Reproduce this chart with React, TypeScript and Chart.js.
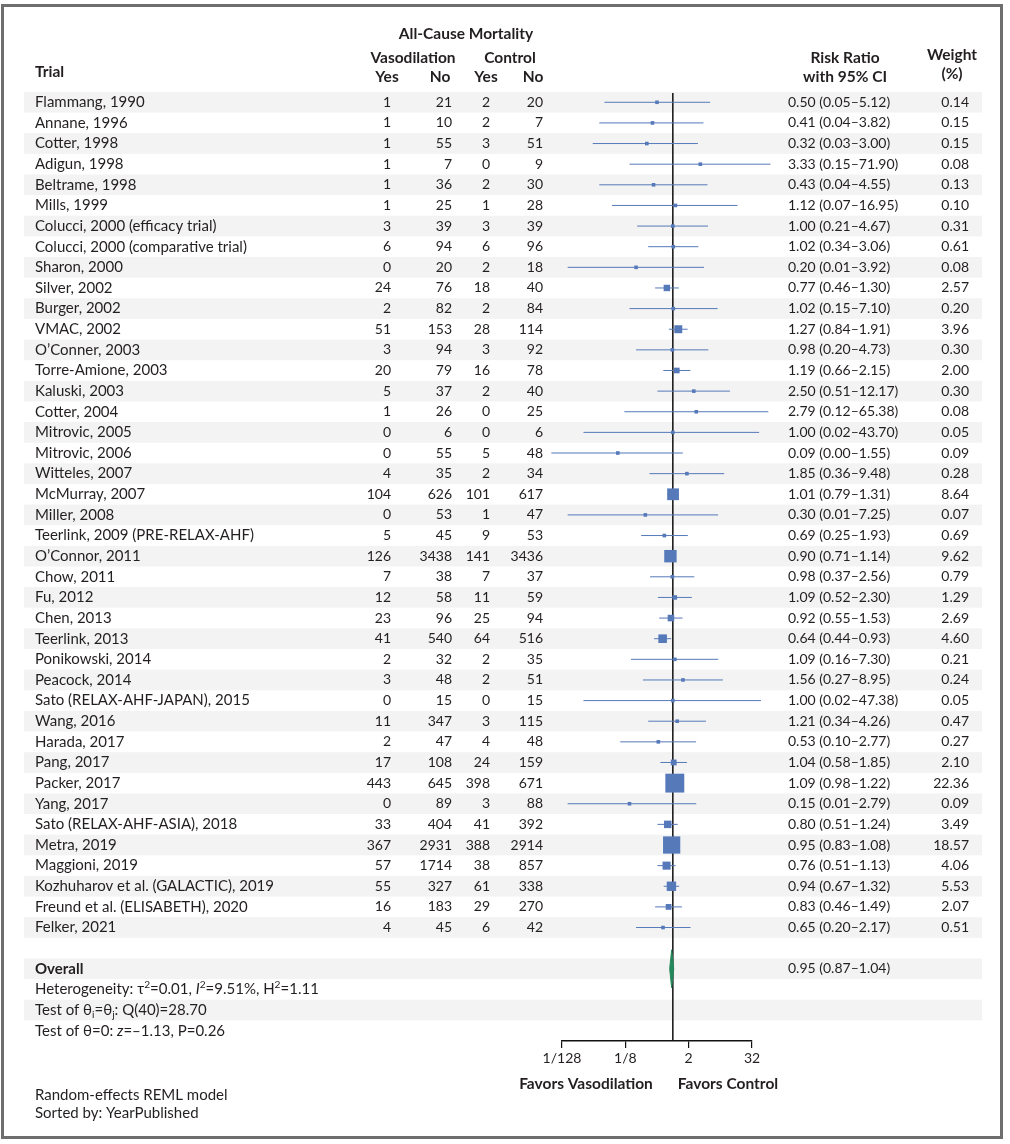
import { useEffect, useRef } from "react";
import { Chart, registerables } from "chart.js";

Chart.register(...registerables);

// ---------------- data ----------------
const trials = [
  "Flammang, 1990",
  "Annane, 1996",
  "Cotter, 1998",
  "Adigun, 1998",
  "Beltrame, 1998",
  "Mills, 1999",
  "Colucci, 2000 (efficacy trial)",
  "Colucci, 2000 (comparative trial)",
  "Sharon, 2000",
  "Silver, 2002",
  "Burger, 2002",
  "VMAC, 2002",
  "O\u2019Conner, 2003",
  "Torre-Amione, 2003",
  "Kaluski, 2003",
  "Cotter, 2004",
  "Mitrovic, 2005",
  "Mitrovic, 2006",
  "Witteles, 2007",
  "McMurray, 2007",
  "Miller, 2008",
  "Teerlink, 2009 (PRE-RELAX-AHF)",
  "O\u2019Connor, 2011",
  "Chow, 2011",
  "Fu, 2012",
  "Chen, 2013",
  "Teerlink, 2013",
  "Ponikowski, 2014",
  "Peacock, 2014",
  "Sato (RELAX-AHF-JAPAN), 2015",
  "Wang, 2016",
  "Harada, 2017",
  "Pang, 2017",
  "Packer, 2017",
  "Yang, 2017",
  "Sato (RELAX-AHF-ASIA), 2018",
  "Metra, 2019",
  "Maggioni, 2019",
  "Kozhuharov et al. (GALACTIC), 2019",
  "Freund et al. (ELISABETH), 2020",
  "Felker, 2021",
];
const vasoYes = [1, 1, 1, 1, 1, 1, 3, 6, 0, 24, 2, 51, 3, 20, 5, 1, 0, 0, 4, 104, 0, 5, 126, 7, 12, 23, 41, 2, 3, 0, 11, 2, 17, 443, 0, 33, 367, 57, 55, 16, 4];
const vasoNo = [21, 10, 55, 7, 36, 25, 39, 94, 20, 76, 82, 153, 94, 79, 37, 26, 6, 55, 35, 626, 53, 45, 3438, 38, 58, 96, 540, 32, 48, 15, 347, 47, 108, 645, 89, 404, 2931, 1714, 327, 183, 45];
const ctrlYes = [2, 2, 3, 0, 2, 1, 3, 6, 2, 18, 2, 28, 3, 16, 2, 0, 0, 5, 2, 101, 1, 9, 141, 7, 11, 25, 64, 2, 2, 0, 3, 4, 24, 398, 3, 41, 388, 38, 61, 29, 6];
const ctrlNo = [20, 7, 51, 9, 30, 28, 39, 96, 18, 40, 84, 114, 92, 78, 40, 25, 6, 48, 34, 617, 47, 53, 3436, 37, 59, 94, 516, 35, 51, 15, 115, 48, 159, 671, 88, 392, 2914, 857, 338, 270, 42];
const riskRatio = [0.5, 0.41, 0.32, 3.33, 0.43, 1.12, 1.0, 1.02, 0.2, 0.77, 1.02, 1.27, 0.98, 1.19, 2.5, 2.79, 1.0, 0.09, 1.85, 1.01, 0.3, 0.69, 0.9, 0.98, 1.09, 0.92, 0.64, 1.09, 1.56, 1.0, 1.21, 0.53, 1.04, 1.09, 0.15, 0.8, 0.95, 0.76, 0.94, 0.83, 0.65];
const ciLow = [0.05, 0.04, 0.03, 0.15, 0.04, 0.07, 0.21, 0.34, 0.01, 0.46, 0.15, 0.84, 0.2, 0.66, 0.51, 0.12, 0.02, 0.0049, 0.36, 0.79, 0.01, 0.25, 0.71, 0.37, 0.52, 0.55, 0.44, 0.16, 0.27, 0.02, 0.34, 0.1, 0.58, 0.98, 0.01, 0.51, 0.83, 0.51, 0.67, 0.46, 0.2];
const ciHigh = [5.12, 3.82, 3.0, 71.9, 4.55, 16.95, 4.67, 3.06, 3.92, 1.3, 7.1, 1.91, 4.73, 2.15, 12.17, 65.38, 43.7, 1.55, 9.48, 1.31, 7.25, 1.93, 1.14, 2.56, 2.3, 1.53, 0.93, 7.3, 8.95, 47.38, 4.26, 2.77, 1.85, 1.22, 2.79, 1.24, 1.08, 1.13, 1.32, 1.49, 2.17];
const weights = [0.14, 0.15, 0.15, 0.08, 0.13, 0.1, 0.31, 0.61, 0.08, 2.57, 0.2, 3.96, 0.3, 2.0, 0.3, 0.08, 0.05, 0.09, 0.28, 8.64, 0.07, 0.69, 9.62, 0.79, 1.29, 2.69, 4.6, 0.21, 0.24, 0.05, 0.47, 0.27, 2.1, 22.36, 0.09, 3.49, 18.57, 4.06, 5.53, 2.07, 0.51];
const overallEstimate = [0.95, 0.87, 1.04]; // RR, low, high
const tickValues = [1 / 128, 1 / 8, 2, 32];
const tickLabels = ["1/128", "1/8", "2", "32"];

// ---------------- layout ----------------
const W = 1010;
const H = 1144;
const PLOT_LEFT = 562;
const PLOT_RIGHT = 752;
const PLOT_TOP = 93;
const PLOT_BOTTOM = 1041;
const AXIS_H = 40;
const Y_MIN = -0.45;
const Y_MAX = 45.5;
const OVERALL_ROW = trials.length + 1;

const TEXT = "#231f20";
const BLUE = "#5579b9";
const GREEN = "#24885a";
const STRIPE = "#f3f3f3";
const FONT = '"Lato", "DejaVu Sans", sans-serif';
const GREEK = '"Lato", "DejaVu Serif", serif';

const fmt = (v: number) => v.toFixed(2);

type Seg = { t: string; it?: boolean; sup?: boolean; sub?: boolean; greek?: boolean };

function drawRich(ctx: CanvasRenderingContext2D, x: number, y: number, segs: Seg[], size: number) {
  let cx = x;
  ctx.textAlign = "left";
  for (const s of segs) {
    const fs = s.sup || s.sub ? size * 0.68 : size;
    ctx.font = `${s.it ? "italic " : ""}${fs}px ${s.greek ? GREEK : FONT}`;
    const dy = s.sup ? -size * 0.32 : s.sub ? size * 0.28 : 0;
    ctx.fillText(s.t, cx, y + dy);
    cx += ctx.measureText(s.t).width;
  }
}

const forestPlugin = {
  id: "forestTable",
  beforeDraw(chart: any) {
    const { ctx } = chart;
    const ys = chart.scales.y;
    ctx.save();
    ctx.fillStyle = "#ffffff";
    ctx.fillRect(0, 0, W, H);
    ctx.strokeStyle = "#6e6e6e";
    ctx.lineWidth = 3;
    ctx.strokeRect(2.5, 5.5, 999, 1132);
    const half = Math.abs(ys.getPixelForValue(0.5) - ys.getPixelForValue(0));
    ctx.fillStyle = STRIPE;
    for (let i = 0; i <= OVERALL_ROW + 2; i += 2) {
      const yc = ys.getPixelForValue(i);
      ctx.fillRect(24, yc - half, 958, half * 2);
    }
    ctx.restore();
  },
  afterDraw(chart: any) {
    const { ctx } = chart;
    const ys = chart.scales.y;
    ctx.save();
    ctx.fillStyle = TEXT;
    ctx.textBaseline = "middle";

    // headers
    ctx.font = `bold 15.5px ${FONT}`;
    ctx.textAlign = "center";
    ctx.fillText("All-Cause Mortality", 466, 34);
    ctx.fillText("Vasodilation", 413, 58);
    ctx.fillText("Control", 510, 58);
    ctx.fillText("Yes", 387, 77);
    ctx.fillText("No", 440, 77);
    ctx.fillText("Yes", 486, 77);
    ctx.fillText("No", 533, 77);
    ctx.fillText("Risk Ratio", 845, 58);
    ctx.fillText("with 95% CI", 845, 77);
    ctx.fillText("Weight", 952, 55);
    ctx.fillText("(%)", 952, 74);
    ctx.textAlign = "left";
    ctx.fillText("Trial", 35, 72);

    // rows
    trials.forEach((name, i) => {
      const y = ys.getPixelForValue(i);
      ctx.font = `15px ${FONT}`;
      ctx.textAlign = "left";
      ctx.fillText(name, 35, y);
      ctx.font = `14px ${FONT}`;
      ctx.textAlign = "right";
      ctx.fillText(String(vasoYes[i]), 391, y);
      ctx.fillText(String(vasoNo[i]), 452, y);
      ctx.fillText(String(ctrlYes[i]), 490, y);
      ctx.fillText(String(ctrlNo[i]), 543, y);
      ctx.fillText(fmt(weights[i]), 969, y);
      ctx.textAlign = "left";
      ctx.fillText(`${fmt(riskRatio[i])} (${fmt(ciLow[i])}\u2013${fmt(ciHigh[i])})`, 788, y);
    });

    // overall
    const yo = ys.getPixelForValue(OVERALL_ROW);
    ctx.font = `bold 15px ${FONT}`;
    ctx.textAlign = "left";
    ctx.fillText("Overall", 35, yo);
    ctx.font = `14px ${FONT}`;
    ctx.fillText(
      `${fmt(overallEstimate[0])} (${fmt(overallEstimate[1])}\u2013${fmt(overallEstimate[2])})`,
      788,
      yo
    );
    drawRich(
      ctx,
      35,
      ys.getPixelForValue(OVERALL_ROW + 1),
      [
        { t: "Heterogeneity: " },
        { t: "\u03c4", greek: true },
        { t: "2", sup: true },
        { t: "=0.01, " },
        { t: "I", it: true },
        { t: "2", sup: true },
        { t: "=9.51%, H" },
        { t: "2", sup: true },
        { t: "=1.11" },
      ],
      15
    );
    drawRich(
      ctx,
      35,
      ys.getPixelForValue(OVERALL_ROW + 2),
      [
        { t: "Test of " },
        { t: "\u03b8", greek: true },
        { t: "i", sub: true },
        { t: "=" },
        { t: "\u03b8", greek: true },
        { t: "j", sub: true },
        { t: ": Q(40)=28.70" },
      ],
      15
    );
    drawRich(
      ctx,
      35,
      ys.getPixelForValue(OVERALL_ROW + 3),
      [
        { t: "Test of " },
        { t: "\u03b8", greek: true },
        { t: "=0: " },
        { t: "z", it: true },
        { t: "=\u20131.13, P=0.26" },
      ],
      15
    );

    // favors labels
    ctx.font = `bold 15.5px ${FONT}`;
    ctx.textAlign = "center";
    ctx.fillText("Favors Vasodilation", 586, 1084);
    ctx.fillText("Favors Control", 728, 1084);

    // footnotes
    ctx.font = `15px ${FONT}`;
    ctx.textAlign = "left";
    ctx.fillText("Random-effects REML model", 35, 1095);
    ctx.fillText("Sorted by: YearPublished", 35, 1113);
    ctx.restore();
  },
};

export default function App() {
  const ref = useRef<HTMLCanvasElement | null>(null);

  useEffect(() => {
    if (!ref.current) return;
    const markerData = riskRatio.map((v, i) => ({ x: v, y: i }));
    const markerRadius = weights.map((w) => Math.max(3.6, 4 * Math.sqrt(w)) / Math.SQRT2);
    const ciData: any[] = [];
    riskRatio.forEach((_, i) => {
      ciData.push({ x: ciLow[i], y: i });
      ciData.push({ x: ciHigh[i], y: i });
      ciData.push({ x: ciHigh[i], y: null });
    });
    const dh = 0.92;
    const [est, lo, hi] = overallEstimate;
    const chart = new Chart(ref.current, {
      type: "scatter",
      data: {
        datasets: [
          {
            label: "markers",
            data: markerData,
            pointStyle: "rect",
            pointRadius: markerRadius,
            pointHoverRadius: markerRadius,
            pointBackgroundColor: BLUE,
            pointBorderWidth: 0,
            showLine: false,
          },
          {
            label: "diamond-top",
            data: [
              { x: lo, y: OVERALL_ROW },
              { x: est, y: OVERALL_ROW - dh },
              { x: hi, y: OVERALL_ROW },
            ],
            showLine: true,
            borderColor: GREEN,
            borderWidth: 1,
            pointRadius: 0,
            fill: false,
          },
          {
            label: "diamond-bottom",
            data: [
              { x: lo, y: OVERALL_ROW },
              { x: est, y: OVERALL_ROW + dh },
              { x: hi, y: OVERALL_ROW },
            ],
            showLine: true,
            borderColor: GREEN,
            backgroundColor: GREEN,
            borderWidth: 1,
            pointRadius: 0,
            fill: "-1",
          },
          {
            label: "ci",
            data: ciData,
            showLine: true,
            spanGaps: false,
            borderColor: BLUE,
            borderWidth: 1,
            pointRadius: 0,
            clip: false as any,
          },
          {
            label: "null line",
            data: [
              { x: 1, y: Y_MIN },
              { x: 1, y: Y_MAX },
            ],
            showLine: true,
            borderColor: "#111",
            borderWidth: 1.5,
            pointRadius: 0,
          },
        ],
      },
      options: {
        animation: false,
        responsive: false,
        devicePixelRatio: 1,
        events: [],
        layout: {
          padding: {
            left: PLOT_LEFT,
            right: W - PLOT_RIGHT,
            top: PLOT_TOP,
            bottom: H - PLOT_BOTTOM - AXIS_H,
          },
        },
        plugins: {
          legend: { display: false },
          tooltip: { enabled: false },
        },
        scales: {
          x: {
            type: "logarithmic",
            position: "bottom",
            min: tickValues[0],
            max: tickValues[tickValues.length - 1],
            afterBuildTicks: (s: any) => {
              s.ticks = tickValues.map((v) => ({ value: v }));
            },
            afterFit: (s: any) => {
              s.height = AXIS_H;
            },
            ticks: {
              autoSkip: false,
              maxRotation: 0,
              minRotation: 0,
              padding: 2,
              color: TEXT,
              font: { family: FONT, size: 14 },
              callback: (v: any) => {
                const idx = tickValues.findIndex((t) => Math.abs(t - Number(v)) < 1e-9);
                return idx >= 0 ? tickLabels[idx] : "";
              },
            },
            grid: {
              drawOnChartArea: false,
              drawTicks: true,
              tickLength: 7,
              color: "#111",
              lineWidth: 1.2,
            },
            border: { display: true, color: "#111", width: 1.5 },
          },
          y: {
            type: "linear",
            display: false,
            reverse: true,
            min: Y_MIN,
            max: Y_MAX,
          },
        },
      },
      plugins: [forestPlugin],
    } as any);
    return () => chart.destroy();
  }, []);

  return (
    <div style={{ position: "absolute", left: 0, top: 0, width: W, height: H }}>
      <canvas ref={ref} width={W} height={H} style={{ display: "block" }} />
    </div>
  );
}
